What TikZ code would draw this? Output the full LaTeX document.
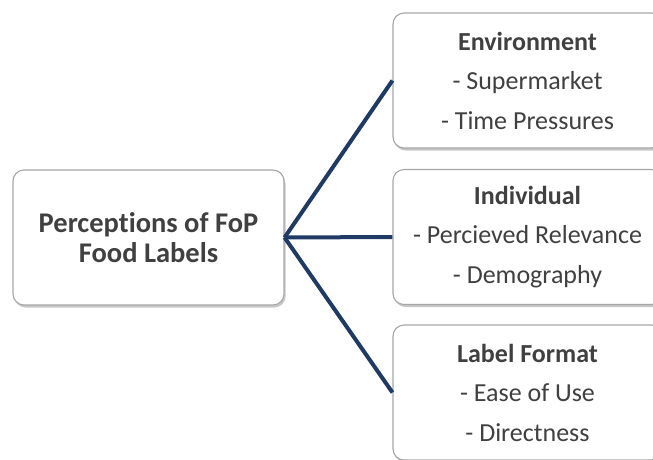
\documentclass[tikz,border=0pt]{standalone}
\usepackage{fontspec}
\setmainfont{Carlito}[Ligatures=NoCommon]
\usetikzlibrary{shadows}
\definecolor{txt}{HTML}{404040}
\definecolor{edge}{HTML}{A6A6A6}
\definecolor{navy}{HTML}{1F3A64}
\tikzset{
  card/.style={draw=edge, line width=1.1pt, fill=white, rounded corners=11pt,
    drop shadow={shadow xshift=1.5pt, shadow yshift=-2.5pt, fill=black, opacity=0.22},
    text=txt, align=center, inner sep=0pt},
  rootcard/.style={card, minimum width=271pt, minimum height=135pt,
    font=\fontsize{28.5}{30}\selectfont\bfseries},
  leafcard/.style={card, minimum width=269pt, minimum height=135pt,
    font=\fontsize{26}{39.5}\selectfont},
  link/.style={draw=navy, line width=4pt}
}
\begin{document}
\begin{tikzpicture}[x=1pt,y=-1pt]
  \useasboundingbox (0,0) rectangle (653,459);
  \node[rootcard] (root) at (148.5,237.5) {Perceptions of FoP\\Food Labels};
  \node[leafcard] (env) at (527.5,80.5) {\textbf{Environment}\\- Supermarket\\- Time Pressures};
  \node[leafcard] (ind) at (527.5,237) {\textbf{Individual}\\- Percieved Relevance\\- Demography};
  \node[leafcard] (fmt) at (527.5,392.5) {\textbf{Label Format}\\- Ease of Use\\- Directness};
  \draw[link] (root.east) -- (env.west);
  \draw[link] (root.east) -- (ind.west);
  \draw[link] (root.east) -- (fmt.west);
\end{tikzpicture}
\end{document}
